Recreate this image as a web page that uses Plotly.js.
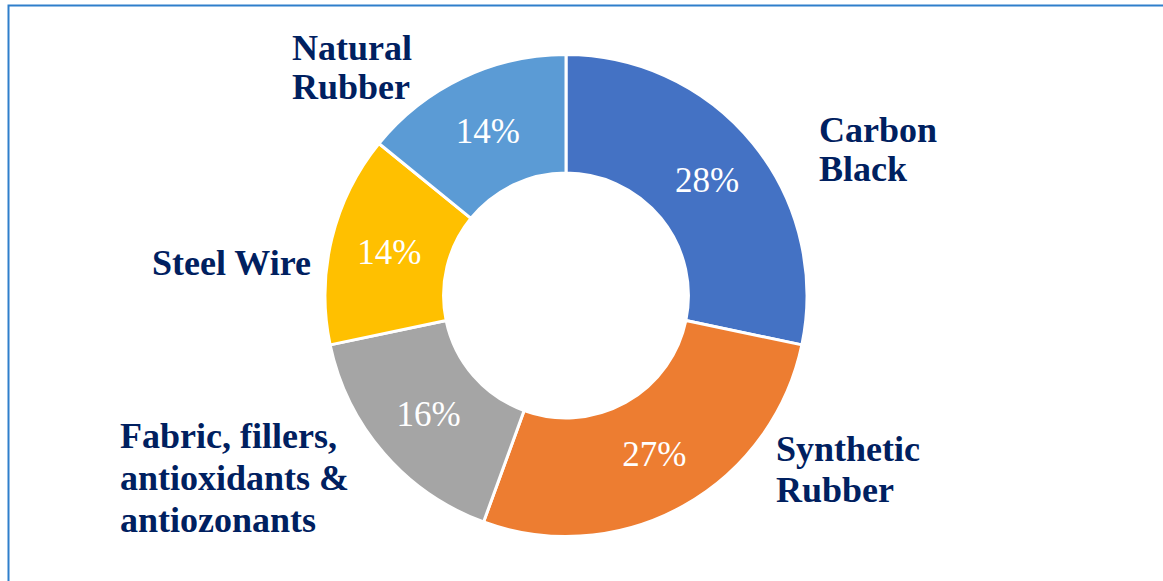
<!DOCTYPE html>
<html>
<head>
<meta charset="utf-8">
<script src="https://cdn.plot.ly/plotly-3.0.1.min.js"></script>
<style>html,body{margin:0;padding:0;background:#fff;}#chart{width:1163px;height:581px;}</style>
</head>
<body>
<div id="chart"></div>
<script>
const categories = ["Carbon Black", "Synthetic Rubber", "Fabric, fillers, antioxidants & antiozonants", "Steel Wire", "Natural Rubber"];
const shares = [28, 27, 16, 14, 14];
const sliceColors = ["#4472C4", "#ED7D31", "#A5A5A5", "#FFC000", "#5B9BD5"];
const labelLines = [["Carbon", "Black"], ["Synthetic", "Rubber"], ["Fabric, fillers,", "antioxidants &", "antiozonants"], ["Steel Wire"], ["Natural", "Rubber"]];
// label placement in pixels: left edge, first-line baseline, line gap
const labelPos = [[819, 142, 40], [776, 462, 40], [120, 448, 42], [152, 276, 40], [292, 60, 40]];

const W = 1163, H = 581;
const cx = 566, cy = 295.5, R = 241;
const FS = 36;

const trace = {
  type: "pie",
  labels: categories,
  values: shares,
  sort: false,
  direction: "clockwise",
  rotation: 0,
  hole: 0.508,
  marker: {colors: sliceColors, line: {color: "#ffffff", width: 3}},
  texttemplate: "%{value}%",
  textposition: "inside",
  insidetextorientation: "horizontal",
  textfont: {family: "Liberation Serif", size: 35, color: "#ffffff"},
  domain: {x: [(cx - R) / W, (cx + R) / W], y: [(H - cy - R) / H, (H - cy + R) / H]},
  showlegend: false,
  hoverinfo: "label+value"
};

const annotations = [];
labelLines.forEach((lines, i) => {
  const [lx, base, gap] = labelPos[i];
  lines.forEach((t, j) => {
    const mid = base + j * gap - 12.5;
    annotations.push({
      text: "<b>" + t + "</b>",
      xref: "paper", yref: "paper",
      x: (lx - 2) / W, y: 1 - mid / H,
      xanchor: "left", yanchor: "middle", align: "left",
      showarrow: false,
      font: {family: "Liberation Serif", size: FS, color: "#002060"}
    });
  });
});

const layout = {
  width: W, height: H,
  margin: {l: 0, r: 0, t: 0, b: 0},
  paper_bgcolor: "#ffffff",
  annotations: annotations,
  shapes: [{
    type: "rect", xref: "paper", yref: "paper",
    x0: 8.5 / W, x1: 1.05, y0: -0.05, y1: 1 - 5.5 / H,
    line: {color: "#2F7FCB", width: 2}
  }]
};

Plotly.newPlot("chart", [trace], layout, {displayModeBar: false});
</script>
</body>
</html>
